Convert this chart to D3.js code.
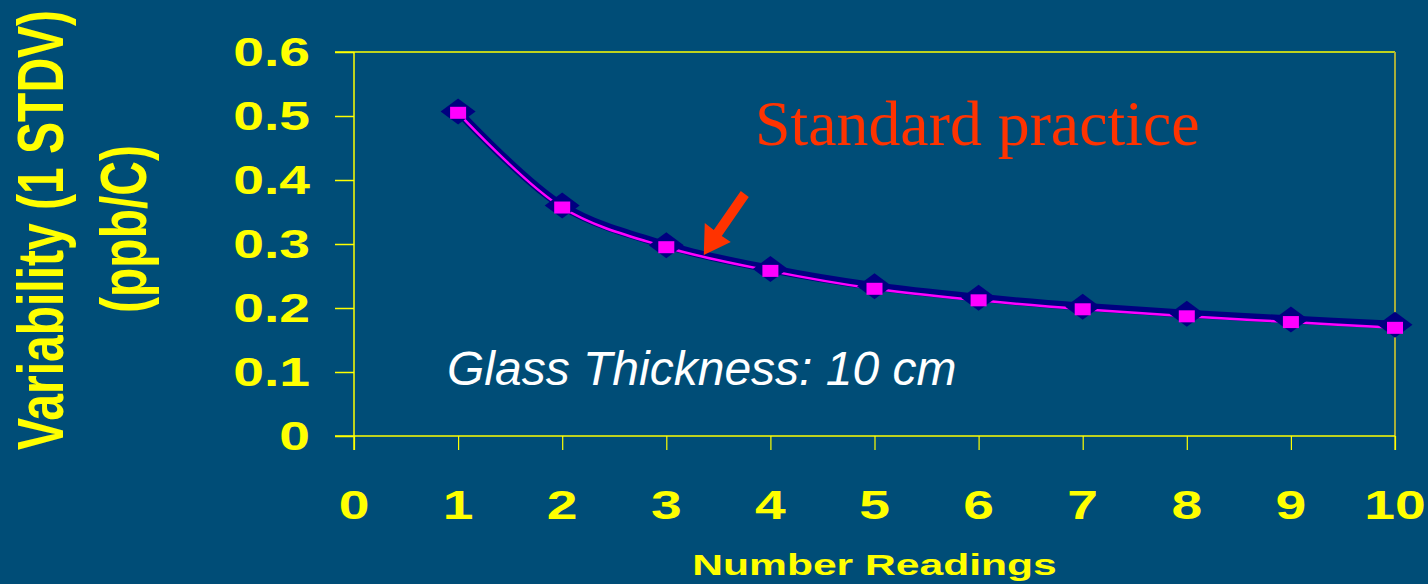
<!DOCTYPE html>
<html><head><meta charset="utf-8">
<script src="https://cdn.jsdelivr.net/npm/d3@7"></script>
<style>
html,body{margin:0;padding:0;background:#004D77;}
svg{display:block;}
</style></head>
<body>
<script>
// ---- data ----
const readings = [1,2,3,4,5,6,7,8,9,10];
const navySeries = [0.507,0.360,0.298,0.261,0.234,0.216,0.202,0.191,0.182,0.174];
const magentaSeries = [0.505,0.357,0.295,0.258,0.230,0.212,0.198,0.187,0.178,0.169];
const xTicks = [0,1,2,3,4,5,6,7,8,9,10];
const yTicks = [0,0.1,0.2,0.3,0.4,0.5,0.6];
const yTickLabels = ["0","0.1","0.2","0.3","0.4","0.5","0.6"];

const W = 1428, H = 584;
const L = 354, R = 1395, T = 52, B = 436;
const SX = 1.38; // horizontal stretch of chart texts

const svg = d3.select("body").append("svg").attr("width", W).attr("height", H);
svg.append("rect").attr("width", W).attr("height", H).attr("fill", "#004D77");

const x = d3.scaleLinear().domain([0,10]).range([L,R]);
const y = d3.scaleLinear().domain([0,0.6]).range([B,T]);

const yellow = "#FFFF00";
const font = "'Liberation Sans', Arial, sans-serif";

// frame: top and right borders
svg.append("line").attr("x1", L-19).attr("x2", R).attr("y1", y(0.6)).attr("y2", y(0.6))
  .attr("stroke", yellow).attr("stroke-width", 1.5);
svg.append("line").attr("x1", R).attr("x2", R).attr("y1", y(0.6)).attr("y2", B+14)
  .attr("stroke", "#A8AE3A").attr("stroke-width", 2);

// y axis
const yAxis = d3.axisLeft(y).tickValues(yTicks).tickSize(19).tickFormat("");
const gy = svg.append("g").attr("transform", `translate(${L},0)`).call(yAxis);
gy.select(".domain").remove();
gy.selectAll(".tick line").attr("stroke", yellow).attr("stroke-width", 1.5);
svg.append("line").attr("x1", L).attr("x2", L).attr("y1", T).attr("y2", B+14)
  .attr("stroke", yellow).attr("stroke-width", 1.5);

// x axis
const xAxis = d3.axisBottom(x).tickValues(xTicks).tickSize(14).tickFormat("");
const gx = svg.append("g").attr("transform", `translate(0,${B})`).call(xAxis);
gx.select(".domain").remove();
gx.selectAll(".tick line").attr("stroke", yellow).attr("stroke-width", 1.2);
svg.append("line").attr("x1", L-19).attr("x2", R).attr("y1", B).attr("y2", B)
  .attr("stroke", yellow).attr("stroke-width", 1.5);

// tick labels (stretched)
yTicks.forEach((v,i)=>{
  svg.append("text").attr("transform", `translate(310,${y(v)+14}) scale(${SX},1)`)
    .attr("text-anchor","end").attr("font-family", font).attr("font-weight","bold")
    .attr("font-size", 40).attr("fill", yellow).text(yTickLabels[i]);
});
xTicks.forEach(v=>{
  svg.append("text").attr("transform", `translate(${x(v)},${519}) scale(${SX},1)`)
    .attr("text-anchor","middle").attr("font-family", font).attr("font-weight","bold")
    .attr("font-size", 40).attr("fill", yellow).text(String(v));
});

// axis titles
svg.append("text").attr("transform", `translate(${x(5)},575) scale(1.42,1)`)
  .attr("text-anchor","middle").attr("font-family", font).attr("font-weight","bold")
  .attr("font-size", 30).attr("fill", yellow).text("Number Readings");

const gyl = svg.append("g").attr("transform", `scale(1.35,1)`);
gyl.append("text").attr("transform", `translate(${63/1.35},230) rotate(-90)`)
  .attr("text-anchor","middle").attr("font-family", font).attr("font-weight","bold")
  .attr("font-size", 48).attr("fill", yellow).text("Variability (1 STDV)");
gyl.append("text").attr("transform", `translate(${146/1.35},229) rotate(-90)`)
  .attr("text-anchor","middle").attr("font-family", font).attr("font-weight","bold")
  .attr("font-size", 48).attr("fill", yellow).text("(ppb/C)");

// series lines (smoothed, as in the original)
const line = d3.line().x((d,i)=>x(readings[i])).y(d=>y(d)).curve(d3.curveCatmullRom.alpha(0.5));
svg.append("path").attr("d", line(navySeries)).attr("fill","none")
  .attr("stroke","#000080").attr("stroke-width",8).attr("stroke-linejoin","round").attr("stroke-linecap","square");
svg.append("path").attr("d", line(magentaSeries)).attr("fill","none")
  .attr("stroke","#FF00FF").attr("stroke-width",2.5);

// markers
svg.selectAll(".dia").data(navySeries).enter().append("path")
  .attr("transform",(d,i)=>`translate(${x(readings[i])},${y(d)})`)
  .attr("d","M0,-13 L17.5,0 L0,13 L-17.5,0 Z").attr("fill","#000080");
svg.selectAll(".sq").data(magentaSeries).enter().append("rect")
  .attr("x",(d,i)=>x(readings[i])-8).attr("y",d=>y(d)-6)
  .attr("width",16).attr("height",12).attr("fill","#FF00FF");

// annotations
svg.append("text").attr("x", 755).attr("y", 145).attr("font-family","'Liberation Serif', 'Times New Roman', serif")
  .attr("font-size", 63.8).attr("fill", "#FF3300").text("Standard practice");
svg.append("text").attr("x", 447).attr("y", 385).attr("font-family", font).attr("font-style","italic")
  .attr("font-size", 48).attr("fill", "#FFFFFF").text("Glass Thickness: 10 cm");

// arrow pointing at the curve
const ax0 = x(3.36), ay0 = y(0.283);
svg.append("path")
  .attr("d", `M${ax0},${ay0} L${ax0+1},${ay0-32} L${ax0+10},${ay0-25} L${ax0+37},${ay0-64} L${ax0+45},${ay0-58} L${ax0+18},${ay0-19} L${ax0+27},${ay0-13} Z`)
  .attr("fill","#FF3300");
</script>
</body></html>
